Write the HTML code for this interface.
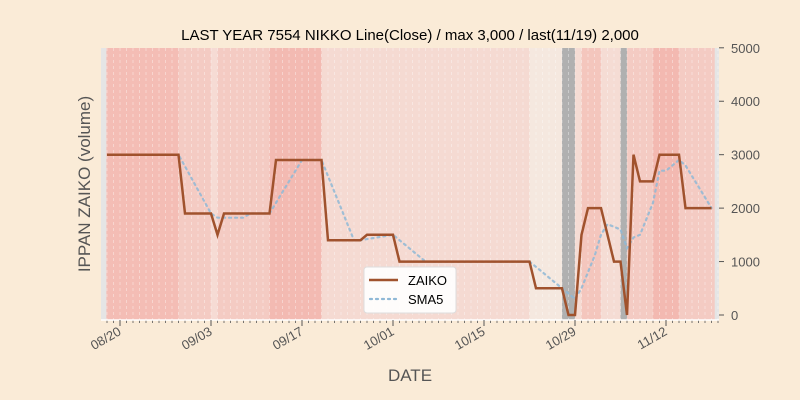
<!DOCTYPE html>
<html><head><meta charset="utf-8"><style>
body{margin:0;background:#faebd7;}
svg{display:block;font-family:"Liberation Sans","DejaVu Sans",sans-serif;}
</style></head><body>
<svg id="chart" width="800" height="400">
<rect x="0" y="0" width="800" height="400" fill="#faebd7"/>
<text x="410" y="40" text-anchor="middle" font-size="15" fill="#000">LAST YEAR 7554 NIKKO Line(Close) / max 3,000 / last(11/19) 2,000</text>
<g id="plot"></g>
<text transform="translate(90,184) rotate(-90)" text-anchor="middle" font-size="17" fill="#555">IPPAN ZAIKO (volume)</text>
<text x="410" y="381" text-anchor="middle" font-size="17" fill="#555">DATE</text>
</svg>
<script>
// days relative to 08/20
const dayStart = -2;
const zaiko = [3000,3000,3000,3000,3000,3000,3000,3000,3000,3000,3000,3000,
1900,1900,1900,1900,1900,1500,1900,1900,1900,1900,1900,1900,1900,1900,
2900,2900,2900,2900,2900,2900,2900,2900,1400,1400,1400,1400,1400,1400,
1500,1500,1500,1500,1500,
1000,1000,1000,1000,1000,1000,1000,1000,1000,1000,1000,1000,1000,1000,1000,1000,1000,1000,1000,1000,1000,
500,500,500,500,500,0,0,1500,2000,2000,2000,1500,1000,1000,0,3000,2500,2500,2500,3000,3000,3000,3000,2000,2000,2000,2000,2000];
const smaStart = 2;
const sma5 = [3000,3000,3000,3000,3000,3000,3000,3000,2780,2560,2340,2120,1900,1820,1820,1820,1820,1820,1900,1900,1900,1900,
2100,2300,2500,2700,2900,2900,2900,2900,2600,2300,2000,1700,1400,1400,1420,1440,1460,1480,1500,1400,1300,1200,1100,
1000,1000,1000,1000,1000,1000,1000,1000,1000,1000,1000,1000,1000,1000,1000,1000,1000,
900,800,700,600,500,400,300,500,800,1100,1500,1700,1650,1600,1250,1450,1500,1800,2100,2700,2700,2800,2900,2800,2600,2400,2200,2000];
const tickDays = [0,14,28,42,56,70,84];
const tickLabels = ["08/20","09/03","09/17","10/01","10/15","10/29","11/12"];
const yTicks = [0,1000,2000,3000,4000,5000];
// background bands: [startDay, endDay, color]
const bandStarts = [-2.1, 9, 14, 15, 23, 31, 63, 68, 70, 71, 74, 77, 78, 82, 86];
const bandEnds   = [9, 14, 15, 23, 31, 63, 68, 70, 71, 74, 77, 78, 82, 86, 91.5];
const bandColors = ["#f4bdb5","#f4cbc3","#f6dbd4","#f4cbc3","#f3bab2","#f5dad2","#f5e8df","#b0b0b0","#f5dcd4","#f4c6bd","#f5dcd4","#b0b0b0","#f4cbc3","#f3b9b1","#f4cbc3"];

const L=101,R=719,T=48,B=320;
const x = d => 120 + d*6.5;
const y = v => 315 - v*0.05344;
const NS="http://www.w3.org/2000/svg";
const plot=document.getElementById('plot');
const svg=document.getElementById('chart');
function mk(tag,attrs,parent){const e=document.createElementNS(NS,tag);for(const k in attrs)e.setAttribute(k,attrs[k]);(parent||plot).appendChild(e);return e;}

let bg=mk('rect',{x:L,y:T,width:R-L,height:B-T,fill:'#e5e5e5'});


bandStarts.forEach((s,i)=>{
  const r=mk('rect',{x:x(s),y:T,width:x(bandEnds[i])-x(s),height:B-T,fill:bandColors[i]});
  
  
});
for(let d=-2; d<=92; d++){
  const g=mk('line',{x1:x(d),x2:x(d),y1:T,y2:B,stroke:'#ffffff','stroke-opacity':0.45,'stroke-width':0.8,'stroke-dasharray':'3,3'});
  
  
  const t=mk('line',{x1:x(d),x2:x(d),y1:B,y2:B+3,stroke:'#555','stroke-width':0.8});
  
  
}
let ax=mk('line',{x1:L,x2:R,y1:B,y2:B,stroke:'#fff','stroke-width':1.5});


tickDays.forEach((d,i)=>{
  const t=mk('line',{x1:x(d),x2:x(d),y1:B,y2:B+6,stroke:'#555','stroke-width':1});
  
  
  const tx=mk('text',{x:x(d)+2,y:B+14,'text-anchor':'end','font-size':13,fill:'#555',transform:`rotate(-30 ${x(d)+2} ${B+14})`});
  tx.textContent=tickLabels[i];
  
  
});
yTicks.forEach(v=>{
  const t=mk('line',{x1:R,x2:R+5,y1:y(v),y2:y(v),stroke:'#555','stroke-width':1});
  
  
  const tx=mk('text',{x:R+12,y:y(v)+5,'font-size':13,fill:'#555'});
  tx.textContent=v;
  
  
});
const smaPts=sma5.map((v,i)=>x(smaStart+i).toFixed(1)+','+y(v).toFixed(1)).join(' ');
let sl=mk('polyline',{points:smaPts,fill:'none',stroke:'#8fb8d6','stroke-width':2.2,'stroke-dasharray':'2,4','stroke-linecap':'round','stroke-opacity':0.85});


const zPts=zaiko.map((v,i)=>x(dayStart+i).toFixed(1)+','+y(v).toFixed(1)).join(' ');
let zl=mk('polyline',{points:zPts,fill:'none',stroke:'#a0522d','stroke-width':2.5,'stroke-linejoin':'miter'});



const lg=mk('g',{});


mk('rect',{x:364,y:267,width:92,height:46,rx:3,fill:'#fff','fill-opacity':0.9,stroke:'#ddd'},lg);
mk('line',{x1:369,x2:398,y1:280,y2:280,stroke:'#a0522d','stroke-width':2.5},lg);
mk('line',{x1:370,x2:398,y1:299,y2:299,stroke:'#8fb8d6','stroke-width':2.2,'stroke-dasharray':'2,4','stroke-linecap':'round'},lg);
const l1=mk('text',{x:408,y:285,'font-size':13,fill:'#000'},lg);l1.textContent='ZAIKO';


const l2=mk('text',{x:408,y:304,'font-size':13,fill:'#000'},lg);l2.textContent='SMA5';


</script>
</body></html>
